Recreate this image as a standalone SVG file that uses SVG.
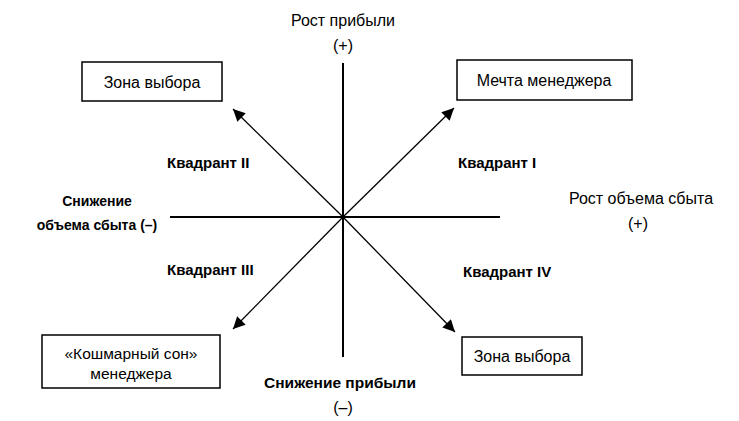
<svg xmlns="http://www.w3.org/2000/svg" width="739" height="421" viewBox="0 0 739 421">
<defs>
<marker id="ah" viewBox="0 0 10 10" refX="10" refY="5" markerWidth="16" markerHeight="12" markerUnits="userSpaceOnUse" orient="auto">
<path d="M0,0 L10,5 L0,10 z" fill="#000"/>
</marker>
</defs>
<style>
text{font-family:"Liberation Sans",Arial,sans-serif;font-size:16px;fill:#000}
.b{font-weight:bold;font-size:15px}
.m{text-anchor:middle}
.box{fill:#fff;stroke:#000;stroke-width:1.5}
.ax{stroke:#000;stroke-width:2;fill:none}
.ar{stroke:#000;stroke-width:1.3;fill:none;marker-end:url(#ah)}
</style>
<rect width="739" height="421" fill="#fff"/>
<g id="connectors">
<line class="ax" x1="343" y1="63" x2="343" y2="357"/>
<line class="ax" x1="170" y1="217" x2="500" y2="217"/>
<line class="ar" x1="343" y1="217" x2="233" y2="109"/>
<line class="ar" x1="343" y1="217" x2="454" y2="108"/>
<line class="ar" x1="343" y1="217" x2="233" y2="329"/>
<line class="ar" x1="343" y1="217" x2="455" y2="332"/>
</g>
<g id="zone-top">
<rect class="box" x="82" y="62" width="140" height="39"/>
<text class="m" x="152" y="88">Зона выбора</text>
</g>
<g id="dream">
<rect class="box" x="457" y="60" width="175" height="40"/>
<text class="m" x="544" y="86">Мечта менеджера</text>
</g>
<g id="nightmare">
<rect class="box" x="42" y="335" width="178" height="53"/>
<text class="m" x="131" y="359" style="font-size:15.5px">«Кошмарный сон»</text>
<text class="m" x="131" y="379" style="font-size:15.5px">менеджера</text>
</g>
<g id="zone-bottom">
<rect class="box" x="462" y="337" width="120" height="38"/>
<text class="m" x="522" y="362">Зона выбора</text>
</g>
<g id="labels">
<text class="m" x="343" y="26">Рост прибыли</text>
<text class="m" x="343" y="51">(+)</text>
<text class="m b" x="340" y="388" style="font-size:15.5px">Снижение прибыли</text>
<text class="m" x="343" y="413">(–)</text>
<text class="m b" x="97" y="206" style="font-size:14px">Снижение</text>
<text class="m b" x="97" y="230" style="font-size:14px">объема сбыта (–)</text>
<text class="m" x="641" y="204">Рост объема сбыта</text>
<text class="m" x="638" y="229">(+)</text>
<text class="b" x="167" y="168">Квадрант II</text>
<text class="b" x="458" y="168">Квадрант I</text>
<text class="b" x="167" y="275">Квадрант III</text>
<text class="b" x="463" y="277">Квадрант IV</text>
</g>
</svg>
